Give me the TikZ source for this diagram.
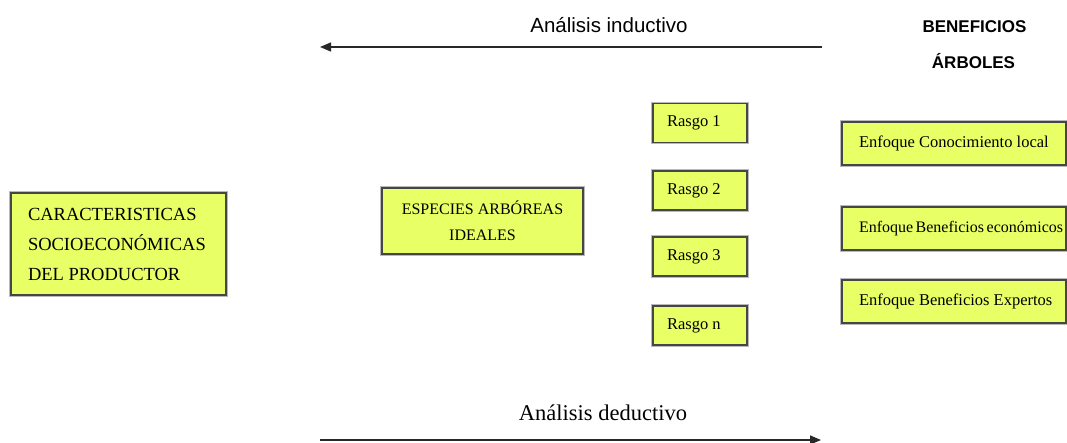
\documentclass[tikz,border=0pt]{standalone}
\usepackage{fontspec}
\setmainfont{Liberation Serif}
\newfontfamily\sansf{Liberation Sans}
\usetikzlibrary{arrows.meta}
\definecolor{boxfill}{RGB}{232,255,102}
\definecolor{boxline}{RGB}{70,70,70}
\definecolor{arrowline}{RGB}{40,40,40}
% one left-aligned line of a given width
\newcommand{\lline}[2]{\makebox[#1][l]{#2}}
\begin{document}
\begin{tikzpicture}[x=1pt,y=-1pt,
  ybox/.style={draw=boxline, line width=1.3pt, fill=boxfill, rectangle,
    preaction={draw=gray!55, line width=3.2pt},
    inner ysep=0pt, font=\fontsize{16.5}{20}\selectfont},
  flow/.style={draw=arrowline, line width=1.5pt, -{Triangle[length=11pt,width=9pt]}},
  lbl/.style={inner sep=0pt}
]
\useasboundingbox (0,0) rectangle (1067,443);

% Producer characteristics
\node[ybox, minimum width=215pt, minimum height=102pt, inner xsep=17pt,
      text width=181pt, align=flush left,
      font=\fontsize{18.5}{30}\selectfont] (prod) at (118.5,244)
  {CARACTERISTICAS\\SOCIOECONÓMICAS\\DEL PRODUCTOR};

% Ideal tree species
\node[ybox, minimum width=201pt, minimum height=66pt, inner xsep=5pt,
      text width=191pt, align=flush center,
      font=\fontsize{16}{26}\selectfont] (esp) at (482.5,221)
  {ESPECIES ARBÓREAS\\IDEALES};

% Traits
\foreach \n/\t/\y in {r1/1/123, r2/2/190.5, r3/3/256.5, rn/n/325.5}
  \node[ybox, minimum width=94pt, minimum height=39pt, inner xsep=14pt]
    (\n) at (700,\y) {\lline{66pt}{Rasgo \t}};

% Approaches
\node[ybox, minimum width=224pt, minimum height=43pt, inner xsep=17pt] (e1) at (954,143.5)
  {\lline{190pt}{Enfoque Conocimiento local}};
\node[ybox, minimum width=224pt, minimum height=43pt, inner xsep=17pt,
      font=\fontsize{16}{20}\selectfont] (e2) at (954,228.5)
  {\lline{190pt}{\spaceskip=2.5pt Enfoque Beneficios económicos}};
\node[ybox, minimum width=224pt, minimum height=43pt, inner xsep=17pt] (e3) at (954,301.5)
  {\lline{190pt}{Enfoque Beneficios Expertos}};

% Heading
\node[lbl, font=\sansf\bfseries\fontsize{17}{20}\selectfont] (ben) at (974.5,27) {BENEFICIOS};
\node[lbl, font=\sansf\bfseries\fontsize{17}{20}\selectfont] (arb) at (973.5,61) {ÁRBOLES};

% Analysis directions
\node[lbl, font=\sansf\fontsize{20.5}{24}\selectfont] (ind) at (609,25) {Análisis inductivo};
\coordinate (indS) at (822,47);
\coordinate (indE) at (320,47);
\draw[flow] (indS) -- (indE);

\node[lbl, font=\fontsize{22.5}{26}\selectfont] (ded) at (603,413) {Análisis deductivo};
\coordinate (dedS) at (320,440);
\coordinate (dedE) at (821,440);
\draw[flow] (dedS) -- (dedE);
\end{tikzpicture}
\end{document}
